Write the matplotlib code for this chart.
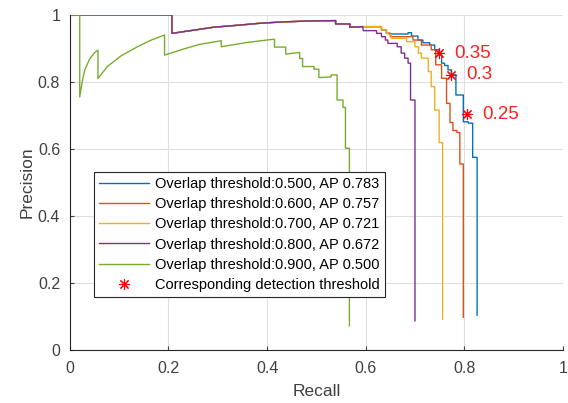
import matplotlib.pyplot as plt

plt.rcParams['font.family'] = ['Liberation Sans', 'DejaVu Sans']

# hidden part shared by the first curves (drawn underneath the purple one)
head_r = [0.000, 0.207, 0.207, 0.263, 0.290, 0.347, 0.385, 0.430, 0.487, 0.539, 0.539, 0.568, 0.568, 0.594]
head_p = [1.000, 1.000, 0.945, 0.957, 0.963, 0.970, 0.975, 0.979, 0.982, 0.983, 0.973, 0.973, 0.963, 0.965]

# overlap 0.5
r50 = head_r + [0.632, 0.632, 0.642, 0.642, 0.650, 0.650, 0.686, 0.686, 0.693, 0.693, 0.706, 0.706,
                0.716, 0.716, 0.730, 0.730, 0.740, 0.740, 0.749, 0.749, 0.754, 0.754, 0.760, 0.760,
                0.767, 0.767, 0.774, 0.774, 0.783, 0.783, 0.798, 0.798, 0.808, 0.808, 0.817, 0.817,
                0.826, 0.826]
p50 = head_p + [0.965, 0.955, 0.955, 0.945, 0.945, 0.943, 0.943, 0.947, 0.947, 0.937, 0.937, 0.925,
                0.925, 0.917, 0.917, 0.910, 0.910, 0.896, 0.896, 0.881, 0.881, 0.856, 0.856, 0.849,
                0.849, 0.836, 0.836, 0.821, 0.821, 0.761, 0.761, 0.681, 0.681, 0.677, 0.677, 0.575,
                0.575, 0.104]

# overlap 0.6
r60 = head_r + [0.632, 0.632, 0.642, 0.642, 0.650, 0.650, 0.696, 0.696, 0.713, 0.713, 0.733, 0.733,
                0.742, 0.742, 0.754, 0.754, 0.764, 0.764, 0.771, 0.771, 0.777, 0.777, 0.785, 0.785,
                0.791, 0.791, 0.798, 0.798]
p60 = head_p + [0.965, 0.955, 0.955, 0.945, 0.945, 0.935, 0.935, 0.925, 0.925, 0.910, 0.910, 0.896,
                0.896, 0.851, 0.851, 0.811, 0.811, 0.736, 0.736, 0.679, 0.679, 0.655, 0.655, 0.649,
                0.649, 0.555, 0.555, 0.098]

# overlap 0.7
r70 = head_r + [0.632, 0.632, 0.642, 0.642, 0.652, 0.652, 0.683, 0.683, 0.700, 0.700, 0.707, 0.707,
                0.713, 0.713, 0.727, 0.727, 0.733, 0.733, 0.740, 0.740, 0.749, 0.749, 0.756, 0.756]
p70 = head_p + [0.965, 0.955, 0.955, 0.945, 0.940, 0.930, 0.930, 0.920, 0.920, 0.905, 0.905, 0.886,
                0.886, 0.871, 0.871, 0.831, 0.831, 0.786, 0.786, 0.716, 0.716, 0.619, 0.619, 0.092]

# overlap 0.8
r80 = head_r + [0.595, 0.622, 0.622, 0.632, 0.632, 0.640, 0.640, 0.645, 0.645, 0.664, 0.664, 0.672,
                0.672, 0.679, 0.679, 0.686, 0.686, 0.691, 0.691, 0.700, 0.700]
p80 = head_p + [0.953, 0.953, 0.945, 0.945, 0.935, 0.935, 0.925, 0.925, 0.915, 0.915, 0.905, 0.905,
                0.886, 0.886, 0.871, 0.871, 0.856, 0.856, 0.746, 0.746, 0.087]

# overlap 0.9
r90 = [0.000, 0.020, 0.020, 0.025, 0.030, 0.040, 0.050, 0.057, 0.057, 0.076, 0.104, 0.137, 0.165,
       0.192, 0.192, 0.230, 0.263, 0.307, 0.307, 0.360, 0.411, 0.415, 0.415, 0.438, 0.438, 0.466,
       0.466, 0.472, 0.472, 0.495, 0.495, 0.505, 0.505, 0.530, 0.530, 0.542, 0.542, 0.554, 0.554,
       0.559, 0.559, 0.567, 0.567]
p90 = [1.000, 1.000, 0.755, 0.800, 0.835, 0.868, 0.887, 0.895, 0.810, 0.846, 0.878, 0.905, 0.925,
       0.940, 0.880, 0.898, 0.912, 0.923, 0.905, 0.918, 0.927, 0.927, 0.904, 0.904, 0.883, 0.888,
       0.870, 0.870, 0.846, 0.846, 0.838, 0.838, 0.813, 0.815, 0.821, 0.821, 0.746, 0.746, 0.724,
       0.724, 0.602, 0.602, 0.072]

labels = ['Overlap threshold:0.500, AP 0.783', 'Overlap threshold:0.600, AP 0.757',
          'Overlap threshold:0.700, AP 0.721', 'Overlap threshold:0.800, AP 0.672',
          'Overlap threshold:0.900, AP 0.500']
colors = ['#0072BD', '#D95319', '#EDB120', '#7E2F8E', '#77AC30']

# detection thresholds marked on the 0.5 curve
star_r = [0.749, 0.774, 0.806]
star_p = [0.886, 0.821, 0.704]
star_txt = ['0.35', '0.3', '0.25']

fig = plt.figure(figsize=(5.68, 4.03), dpi=100)
ax = fig.add_axes([0.123, 0.1315, 0.868, 0.8315])

curves = [(r50, p50), (r60, p60), (r70, p70), (r80, p80), (r90, p90)]
for (r, p), c, lab in zip(curves, colors, labels):
    ax.plot(r, p, color=c, lw=1.0, label=lab)

asterisk = (8, 2, 0)
ax.plot(star_r, star_p, ls='none', marker=asterisk, ms=8, mew=0.8, color='red',
        label='Corresponding detection threshold')
for r, p, t in zip(star_r, star_p, star_txt):
    ax.text(r + 0.03, p, t, color='#ff2020', fontsize=13.5, va='center')

ax.set_xlim(0, 1)
ax.set_ylim(0, 1)
ax.set_xticks([0, 0.2, 0.4, 0.6, 0.8, 1])
ax.set_yticks([0, 0.2, 0.4, 0.6, 0.8, 1])
ax.set_xticklabels(['0', '0.2', '0.4', '0.6', '0.8', '1'])
ax.set_yticklabels(['0', '0.2', '0.4', '0.6', '0.8', '1'])
ax.grid(True, color='#dfdfdf', lw=0.8)
ax.set_axisbelow(True)
for s in ['top', 'right']:
    ax.spines[s].set_visible(False)
for s in ['left', 'bottom']:
    ax.spines[s].set_color('#262626')
    ax.spines[s].set_linewidth(0.8)
ax.tick_params(direction='in', length=3, width=0.8, colors='#404040', labelsize=11.5)
ax.tick_params(axis='x', pad=8)
ax.tick_params(axis='y', pad=7)
ax.set_xlabel('Recall', fontsize=12.5, color='#404040', labelpad=6)
ax.set_ylabel('Precision', fontsize=12.5, color='#404040', labelpad=2)

leg = ax.legend(loc='upper left', bbox_to_anchor=(0.0497, 0.531), fontsize=10.5,
                handlelength=3.4, handletextpad=0.4, labelspacing=0.42, borderpad=0.35,
                borderaxespad=0, fancybox=False, framealpha=1, edgecolor='#262626')
leg.get_frame().set_linewidth(0.8)

fig.savefig('out.png', dpi=100)
